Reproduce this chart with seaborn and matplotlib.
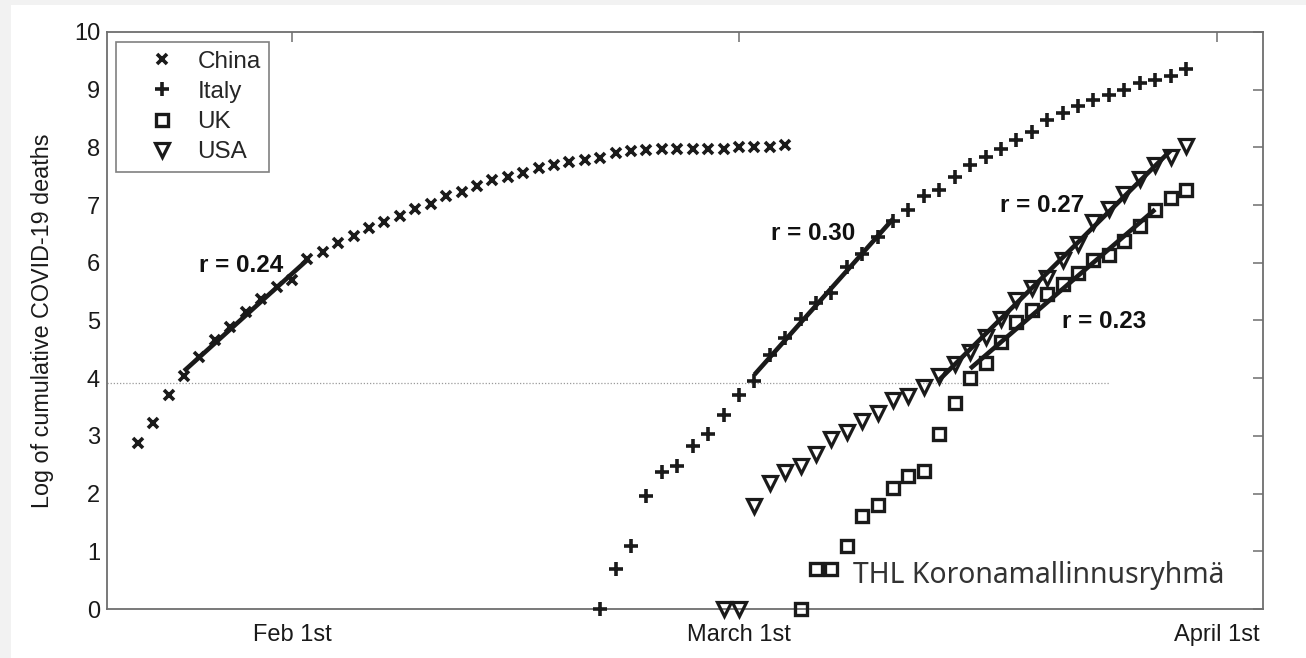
import numpy as np
import pandas as pd
import matplotlib
matplotlib.use("Agg")
import matplotlib.pyplot as plt
import seaborn as sns
from matplotlib.patches import Rectangle

# ---------------- data (log of cumulative deaths, one value per day) ----------------
china_start = "2020-01-22"
china_log_deaths = [2.87, 3.22, 3.71, 4.03, 4.37, 4.66, 4.88, 5.14, 5.37, 5.58,
                    5.70, 6.06, 6.19, 6.34, 6.46, 6.60, 6.71, 6.81, 6.94, 7.02,
                    7.15, 7.23, 7.33, 7.43, 7.49, 7.55, 7.64, 7.70, 7.75, 7.79,
                    7.81, 7.90, 7.93, 7.95, 7.97, 7.97, 7.98, 7.98, 7.98, 8.00,
                    8.00, 8.01, 8.04]
italy_start = "2020-02-21"
italy_log_deaths = [0.00, 0.69, 1.10, 1.95, 2.38, 2.47, 2.83, 3.03, 3.36, 3.71,
                    3.96, 4.40, 4.69, 5.02, 5.30, 5.47, 5.93, 6.16, 6.45, 6.73,
                    6.92, 7.15, 7.26, 7.49, 7.70, 7.84, 7.98, 8.13, 8.27, 8.47,
                    8.59, 8.71, 8.82, 8.91, 8.99, 9.11, 9.17, 9.23, 9.36]
uk_start = "2020-03-05"
uk_log_deaths = [0.00, 0.69, 0.69, 1.10, 1.62, 1.80, 2.09, 2.30, 2.40, 3.04,
                 3.57, 4.00, 4.27, 4.63, 4.98, 5.18, 5.46, 5.64, 5.82, 6.05,
                 6.14, 6.37, 6.63, 6.92, 7.12, 7.26]
usa_start = "2020-02-29"
usa_log_deaths = [0.00, 0.00, 1.78, 2.18, 2.38, 2.47, 2.69, 2.94, 3.07, 3.25,
                  3.39, 3.63, 3.70, 3.85, 4.03, 4.25, 4.46, 4.72, 5.02, 5.36,
                  5.56, 5.73, 6.05, 6.32, 6.70, 6.94, 7.20, 7.46, 7.70, 7.84,
                  8.02]

countries = ["China", "Italy", "UK", "USA"]
# fitting windows for the exponential growth rate r
fit_start = ["2020-01-25", "2020-03-02", "2020-03-16", "2020-03-14"]
fit_end = ["2020-02-02", "2020-03-11", "2020-03-28", "2020-03-29"]
rate_labels = ["r = 0.24", "r = 0.30", "r = 0.23", "r = 0.27"]

threshold_deaths = 50
threshold_end = "2020-03-25"

x_tick_dates = ["2020-02-01", "2020-03-01", "2020-04-01"]
x_tick_labels = ["Feb 1st", "March 1st", "April 1st"]
y_ticks = list(range(0, 11))
x_limits = ["2020-01-20", "2020-04-04"]
ylabel = "Log of cumulative COVID-19 deaths"
credit = "THL Koronamallinnusryhmä"

# ---------------- helpers ----------------
origin = pd.Timestamp("2020-01-01")


def day(s):
    return (pd.Timestamp(s) - origin).days


def series_days(start, values):
    return np.arange(len(values)) + day(start)


series = {
    "China": (series_days(china_start, china_log_deaths), np.array(china_log_deaths)),
    "Italy": (series_days(italy_start, italy_log_deaths), np.array(italy_log_deaths)),
    "UK": (series_days(uk_start, uk_log_deaths), np.array(uk_log_deaths)),
    "USA": (series_days(usa_start, usa_log_deaths), np.array(usa_log_deaths)),
}

# ---------------- style ----------------
sns.set_theme(style="white")
plt.rcParams["font.family"] = ["Liberation Sans", "DejaVu Sans"]

W, H = 1306, 658
fig = plt.figure(figsize=(W / 100, H / 100), dpi=100, facecolor="#f2f2f2")
fig.patches.append(Rectangle((11 / W, 0), 1, 1 - 5 / H, transform=fig.transFigure,
                             facecolor="white", edgecolor="none", zorder=-10))
ax = fig.add_axes([107 / W, 1 - 609 / H, (1263 - 107) / W, (609 - 32) / H])
ax.set_facecolor("white")

marker_style = {
    "China": dict(marker="x", markersize=7.8, markeredgewidth=2.6,
                  markeredgecolor="k", markerfacecolor="k"),
    "Italy": dict(marker="+", markersize=9.8, markeredgewidth=2.6,
                  markeredgecolor="k", markerfacecolor="k"),
    "UK": dict(marker="s", markersize=8.3, markeredgewidth=2.4,
               markeredgecolor="k", markerfacecolor="none"),
    "USA": dict(marker="v", markersize=10.3, markeredgewidth=2.3,
                markeredgecolor="k", markerfacecolor="none"),
}

for c in countries:
    xd, yd = series[c]
    sns.lineplot(x=xd, y=yd, ax=ax, color="k", linestyle="none", label=c,
                 estimator=None, clip_on=False, zorder=3, **marker_style[c])

# regression lines over the fitting windows
for c, fs, fe in zip(countries, fit_start, fit_end):
    xd, yd = series[c]
    m = (xd >= day(fs)) & (xd <= day(fe))
    sns.regplot(x=xd[m], y=yd[m], ax=ax, scatter=False, ci=None, truncate=True,
                color="k", line_kws=dict(lw=3.3, zorder=4, solid_capstyle="butt"))

# rate labels
label_pos = {"China": (27.7, 5.96), "Italy": (64.8, 6.50),
             "UK": (83.7, 4.98), "USA": (79.7, 7.00)}
for c, t in zip(countries, rate_labels):
    px, py = label_pos[c]
    ax.text(px, py, t, ha="center", va="center", fontsize=17.5,
            fontweight="bold", color="#111111", zorder=5)

# threshold line
ax.hlines(np.log(threshold_deaths), day(x_limits[0]), day(threshold_end),
          colors="#9a9a9a", linestyles=(0, (1, 1.5)), linewidth=0.9, zorder=1)

# axes
ax.set_xlim(day(x_limits[0]), day(x_limits[1]))
ax.set_ylim(0, 10)
ax.set_xticks([day(d) for d in x_tick_dates])
ax.set_xticklabels(x_tick_labels)
ax.set_yticks(y_ticks)
ax.set_yticklabels([str(v) for v in y_ticks])
ax.tick_params(direction="in", length=7, width=1.1, top=True, right=True,
               colors="#6e6e6e", labelcolor="#1a1a1a", labelsize=17, pad=5)
ax.tick_params(axis="x", pad=11)
for s in ax.spines.values():
    s.set_visible(True)
    s.set_color("#6e6e6e")
    s.set_linewidth(1.3)
ax.set_xlabel("")
ax.set_ylabel(ylabel, fontsize=16.8, color="#1a1a1a", labelpad=14)

leg = ax.legend(loc="upper left", bbox_to_anchor=(9 / 1156, 1 - 10 / 577),
                borderaxespad=0, frameon=True, fancybox=False, fontsize=17.5,
                handlelength=3.1, handletextpad=-0.1, borderpad=0.35,
                labelspacing=0.34, numpoints=1)
leg.get_frame().set_edgecolor("#808080")
leg.get_frame().set_linewidth(1.2)
leg.get_frame().set_facecolor("white")
leg.get_frame().set_alpha(1)

fig.text(853 / W, 1 - 582.7 / H, credit, ha="left", va="baseline",
         fontsize=20.4, color="#333333", family=["Noto Sans", "DejaVu Sans"])

fig.savefig("out.png", dpi=100, facecolor=fig.get_facecolor())
